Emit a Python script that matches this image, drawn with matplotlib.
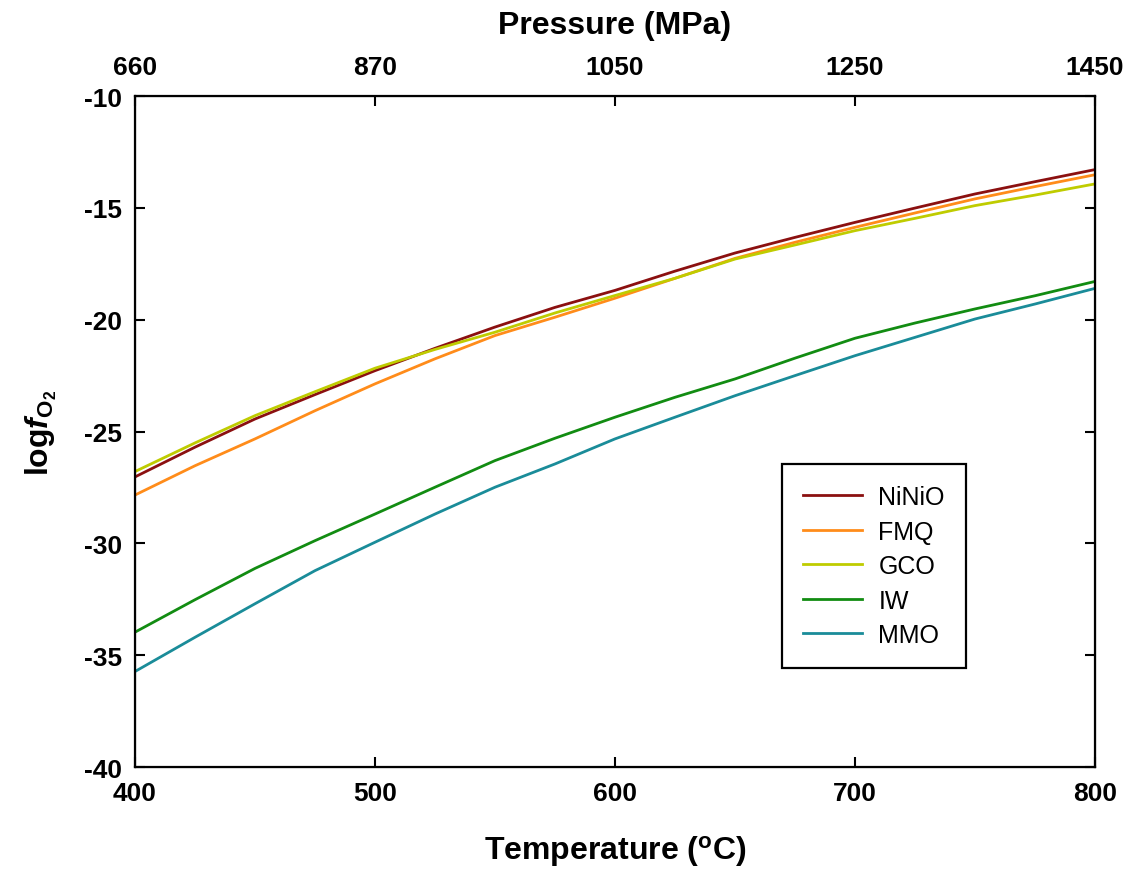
import numpy as np
import matplotlib
matplotlib.use("Agg")
import matplotlib.pyplot as plt

plt.rcParams['font.family'] = ['Liberation Sans', 'DejaVu Sans']
plt.rcParams['mathtext.fontset'] = 'custom'
plt.rcParams['mathtext.rm'] = 'Liberation Sans:bold'
plt.rcParams['mathtext.it'] = 'Liberation Sans:italic:bold'
plt.rcParams['mathtext.bf'] = 'Liberation Sans:bold'
plt.rcParams['axes.unicode_minus'] = False

temp = [400, 425, 450, 475, 500, 525, 550, 575, 600,
        625, 650, 675, 700, 725, 750, 775, 800]

ninio = [-27.03, -25.70, -24.44, -23.35, -22.28, -21.28, -20.33, -19.45, -18.69,
         -17.83, -17.02, -16.32, -15.65, -15.01, -14.38, -13.83, -13.29]
fmq = [-27.84, -26.53, -25.33, -24.07, -22.87, -21.75, -20.71, -19.89, -19.04,
       -18.15, -17.26, -16.54, -15.87, -15.23, -14.60, -14.05, -13.52]
gco = [-26.79, -25.51, -24.29, -23.22, -22.17, -21.33, -20.56, -19.70, -18.92,
       -18.15, -17.29, -16.66, -16.02, -15.47, -14.90, -14.43, -13.93]
iw = [-33.97, -32.52, -31.12, -29.88, -28.69, -27.49, -26.30, -25.30, -24.36,
      -23.47, -22.65, -21.72, -20.83, -20.15, -19.52, -18.93, -18.29]
mmo = [-35.73, -34.20, -32.70, -31.22, -29.95, -28.69, -27.49, -26.45, -25.33,
       -24.36, -23.40, -22.50, -21.61, -20.79, -19.97, -19.30, -18.60]

names = ['NiNiO', 'FMQ', 'GCO', 'IW', 'MMO']
colors = ['#8B1010', '#FF8C1A', '#BFCC00', '#128C12', '#1A8C99']

temp_ticks = [400, 500, 600, 700, 800]
pressure_labels = ['660', '870', '1050', '1250', '1450']

fig = plt.figure(figsize=(11.24, 8.70), dpi=100)
ax = fig.add_axes([0.1201, 0.1172, 0.8541, 0.7713])

for y, name, c in zip([ninio, fmq, gco, iw, mmo], names, colors):
    ax.plot(temp, y, color=c, lw=2.0, label=name)

ax.set_xlim(400, 800)
ax.set_ylim(-40, -10)
ax.set_xticks(temp_ticks)
ax.set_yticks(np.arange(-40, -9, 5))
ax.tick_params(direction='in', length=7, width=1.5, labelsize=19, pad=10,
               right=True)
ax.tick_params(axis='y', pad=9)
for lab in ax.get_xticklabels() + ax.get_yticklabels():
    lab.set_fontweight('bold')
for s in ax.spines.values():
    s.set_linewidth(1.6)

ax.set_xlabel(r'Temperature ($^{\mathrm{o}}$C)', fontsize=23,
              fontweight='bold', labelpad=20)
ax.set_ylabel(r'log$\mathit{f}_{\mathrm{O}_{2}}$', fontsize=23,
              fontweight='bold', labelpad=18)

# top axis with pressure
ax2 = ax.twiny()
ax2.set_xlim(ax.get_xlim())
ax2.set_xticks(temp_ticks)
ax2.set_xticklabels(pressure_labels)
ax2.tick_params(direction='in', length=7, width=1.5, labelsize=19, pad=12)
for lab in ax2.get_xticklabels():
    lab.set_fontweight('bold')
ax2.set_xlabel('Pressure (MPa)', fontsize=23, fontweight='bold', labelpad=16)

leg = ax.legend(loc='upper left', bbox_to_anchor=(0.674, 0.4516),
                fontsize=18, frameon=True, fancybox=False, handlelength=2.35,
                handletextpad=0.65, labelspacing=0.42, borderpad=0.85,
                borderaxespad=0)
leg.get_frame().set_edgecolor('black')
leg.get_frame().set_linewidth(1.6)
leg.get_frame().set_alpha(1)

fig.savefig('out.png', dpi=100)
